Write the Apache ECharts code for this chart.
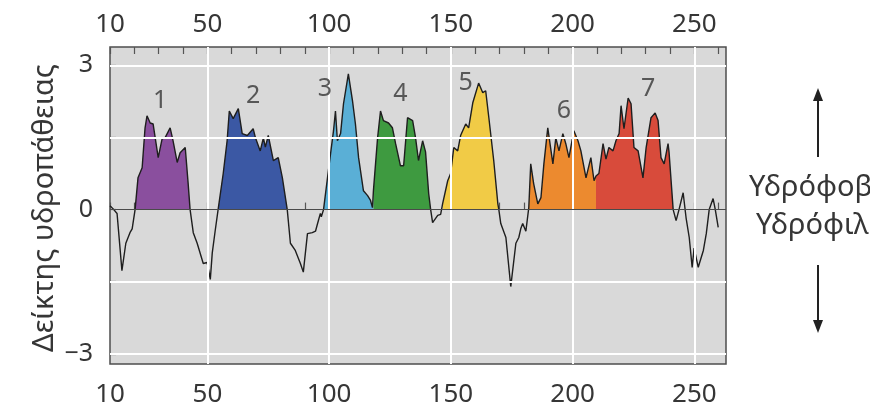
<!DOCTYPE html>
<html>
<head>
<meta charset="utf-8">
<script src="https://cdn.jsdelivr.net/npm/echarts@6/dist/echarts.min.js"></script>
<style>
html,body{margin:0;padding:0;background:#fff;}
#chart{width:870px;height:412px;}
</style>
</head>
<body>
<div id="chart"></div>
<script>
// ---- data ----
const residuePos = [10.0,11.2,12.9,14.9,16.5,18.2,19.1,20.3,21.5,23.2,24.4,25.2,26.5,27.7,29.8,31.4,32.6,34.7,35.9,37.6,38.8,40.9,42.1,42.9,44.2,45.8,48.3,49.9,51.2,52.0,53.2,54.4,56.5,58.1,59.0,60.6,62.7,64.3,66.4,68.8,69.7,71.7,73.0,73.8,75.0,77.1,79.1,80.8,82.8,84.1,86.1,88.2,89.4,91.1,93.1,94.4,95.2,96.4,96.8,97.7,99.7,101.8,102.6,103.4,104.7,105.9,107.9,109.6,110.8,112.1,114.1,115.8,117.0,117.8,118.2,119.9,121.1,122.3,124.4,126.0,127.3,129.3,130.6,132.2,132.6,134.3,135.5,136.7,138.4,139.6,140.9,141.7,142.5,144.6,145.8,146.6,148.7,149.9,151.2,152.8,154.0,156.1,157.3,159.0,161.4,163.1,164.3,165.6,167.6,169.3,169.7,170.5,172.6,174.6,176.7,177.9,178.7,179.5,180.8,182.0,182.8,184.0,185.7,187.0,188.2,189.8,191.9,193.1,194.4,196.0,197.2,198.5,200.5,202.2,203.4,205.5,207.5,208.8,209.6,210.8,212.5,213.7,214.9,216.6,217.8,219.1,219.9,221.1,222.8,224.0,225.2,226.9,228.9,230.2,232.2,233.9,235.1,236.3,237.6,239.2,239.6,241.3,242.5,243.7,245.4,246.6,247.9,249.1,249.9,251.6,253.7,254.9,256.1,257.7,258.6,259.8];
const hydropathy = [0.08,0.02,-0.08,-1.27,-0.7,-0.48,-0.4,0,0.66,0.87,1.7,1.95,1.8,1.78,1.08,1.47,1.49,1.7,1.43,0.98,1.18,1.29,0.54,0,-0.48,-0.7,-1.12,-1.1,-1.45,-0.9,-0.44,0,0.75,1.43,2.05,1.89,2.1,1.58,1.54,1.68,1.5,1.22,1.49,1.3,1.54,1.02,1.08,0.66,0,-0.7,-0.85,-1.12,-1.3,-0.5,-0.48,-0.45,-0.3,-0.08,-0.15,0,0.81,1.64,2.05,1.43,1.58,2.2,2.82,2.26,1.78,1.08,0.39,0.29,0.19,0.04,0.4,1.49,2.05,1.85,1.8,1.7,1.37,0.91,0.91,1.91,1.91,1.85,1.49,1.02,1.43,1.2,0.33,0,-0.27,-0.12,-0.1,0.12,0.6,0.75,1.29,1.22,1.54,1.78,1.7,2.22,2.63,2.43,2.47,1.91,1.02,0.12,0,-0.29,-0.58,-1.6,-0.7,-0.58,-0.4,-0.29,-0.45,0.04,0.95,0.54,0.12,0.25,0.95,1.7,0.95,1.49,1.22,1.58,1.37,1.08,1.64,1.43,1.22,0.66,1.08,0.6,0.7,0.75,1.37,1.05,1.29,1.22,1.43,1.58,2.16,1.68,2.32,2.2,1.29,1.22,0.66,1.29,1.91,2.01,1.85,1.08,0.95,1.37,1.2,0,-0.23,0,0.35,-0.17,-0.58,-1.2,-0.8,-1.2,-0.85,-0.5,0,0.23,0,-0.37];
const segmentNames = ['1','2','3','4','5','6','7'];
const segmentStart = [20.3, 54.4, 97.7, 118.2, 146.6, 182.0, 209.6];
const segmentEnd   = [42.9, 82.8, 118.2, 141.7, 169.7, 209.6, 241.3];
const segmentColors = ['#8a4f9e','#3b58a4','#5aafd6','#3e9a40','#f1cb46','#ec8a2f','#d84b3b'];
const labelX = [30.6, 68.8, 98.3, 129.3, 156.1, 196.4, 231.0];
const labelY = [2.26, 2.37, 2.5, 2.4, 2.63, 2.05, 2.5];
const xLabelValues = [10, 50, 100, 150, 200, 250];
const xTickValues = [10,20,30,40,50,60,70,80,90,100,110,120,130,140,150,160,170,180,190,200,210,220,230,240,250,260];
const xGridValues = [50, 100, 150, 200, 250];
const yLabelValues = [-3, 0, 3];
const yTickValues = [-3, -1.5, 0, 1.5, 3];
const yGridValues = [-3, -1.5, 1.5, 3];
const yAxisTitle = 'Δείκτης υδροπάθειας';
const upText = 'Υδρόφοβο';
const downText = 'Υδρόφιλο';

// ---- chart ----
const FONT = '"Noto Sans", "DejaVu Sans", sans-serif';
const TXT = '#363636';
const profile = residuePos.map((x, i) => [x, hydropathy[i]]);

function fmt(v) { return v < 0 ? '\u2212' + Math.abs(v) : String(v); }

function xAxisDef(pos) {
  return {
    type: 'value', position: pos, min: 10, max: 263,
    axisLine: { show: false },
    splitLine: { show: false },
    axisTick: { show: true, inside: true, length: 7, customValues: xTickValues,
      lineStyle: { color: '#555', width: 1.2 } },
    axisLabel: { customValues: xLabelValues, formatter: fmt, margin: pos === 'top' ? 9 : 18,
      fontFamily: FONT, fontSize: 26, color: TXT }
  };
}

const series = [];
// gridlines
series.push({
  type: 'line', z: 1, silent: true, data: [], symbol: 'none',
  markLine: {
    silent: true, symbol: 'none', animation: false,
    label: { show: false },
    lineStyle: { color: '#ffffff', width: 2, type: 'solid' },
    data: xGridValues.map(v => ({ xAxis: v })).concat(yGridValues.map(v => ({ yAxis: v })))
  }
});
// coloured segments
segmentNames.forEach((name, k) => {
  const d = profile.filter(p => p[0] >= segmentStart[k] - 1e-6 && p[0] <= segmentEnd[k] + 1e-6);
  series.push({
    type: 'line', name: name, z: 2, data: d, symbol: 'none', silent: true,
    lineStyle: { width: 0, opacity: 0 },
    areaStyle: { color: segmentColors[k], opacity: 1, origin: 0 }
  });
});
// profile line + zero line
series.push({
  type: 'line', z: 3, data: profile, symbol: 'none', silent: true,
  lineStyle: { color: '#1e1e1e', width: 1.4 },
  markLine: {
    silent: true, symbol: 'none', animation: false, label: { show: false },
    lineStyle: { color: '#4a4a4a', width: 1.2, type: 'solid' },
    data: [{ yAxis: 0 }]
  }
});
// segment number labels
series.push({
  type: 'scatter', z: 10, zlevel: 1, silent: true, symbolSize: 1,
  itemStyle: { color: 'rgba(0,0,0,0)' },
  data: labelX.map((x, i) => ({ value: [x, labelY[i]], name: segmentNames[i] })),
  label: { show: true, position: 'inside', formatter: p => p.name,
    fontFamily: FONT, fontSize: 25, color: TXT }
});

const option = {
  animation: false,
  backgroundColor: '#ffffff',
  grid: { left: 110, right: 144, top: 47, bottom: 48, show: true,
    backgroundColor: '#d9d9d9', borderColor: '#4d4d4d', borderWidth: 1.5 },
  xAxis: [xAxisDef('bottom'), xAxisDef('top')],
  yAxis: {
    type: 'value', min: -3.21, max: 3.38,
    axisLine: { show: false },
    splitLine: { show: false },
    axisTick: { show: true, inside: true, length: 6, customValues: yTickValues,
      lineStyle: { color: '#555', width: 1.2 } },
    axisLabel: { customValues: yLabelValues, formatter: fmt, margin: 17,
      fontFamily: FONT, fontSize: 25, color: TXT }
  },
  series: series,
  graphic: [
    { type: 'text', x: 45, y: 208, rotation: Math.PI / 2,
      style: { text: yAxisTitle, font: '29px ' + FONT, fill: TXT,
        align: 'center', verticalAlign: 'middle', textAlign: 'center', textVerticalAlign: 'middle' } },
    { type: 'text', x: 749, y: 188,
      style: { text: upText, font: '29px ' + FONT, fill: TXT,
        align: 'left', verticalAlign: 'middle', textAlign: 'left', textVerticalAlign: 'middle' } },
    { type: 'text', x: 756, y: 226,
      style: { text: downText, font: '29px ' + FONT, fill: TXT,
        align: 'left', verticalAlign: 'middle', textAlign: 'left', textVerticalAlign: 'middle' } },
    { type: 'line', shape: { x1: 818, y1: 98, x2: 818, y2: 157 }, style: { stroke: '#222', lineWidth: 2 } },
    { type: 'polygon', shape: { points: [[813, 101], [818, 88], [823, 101]] }, style: { fill: '#222' } },
    { type: 'line', shape: { x1: 818, y1: 265, x2: 818, y2: 323 }, style: { stroke: '#222', lineWidth: 2 } },
    { type: 'polygon', shape: { points: [[813, 320], [818, 333], [823, 320]] }, style: { fill: '#222' } }
  ]
};

const chart = echarts.init(document.getElementById('chart'), null, { renderer: 'canvas' });
chart.setOption(option);
</script>
</body>
</html>
